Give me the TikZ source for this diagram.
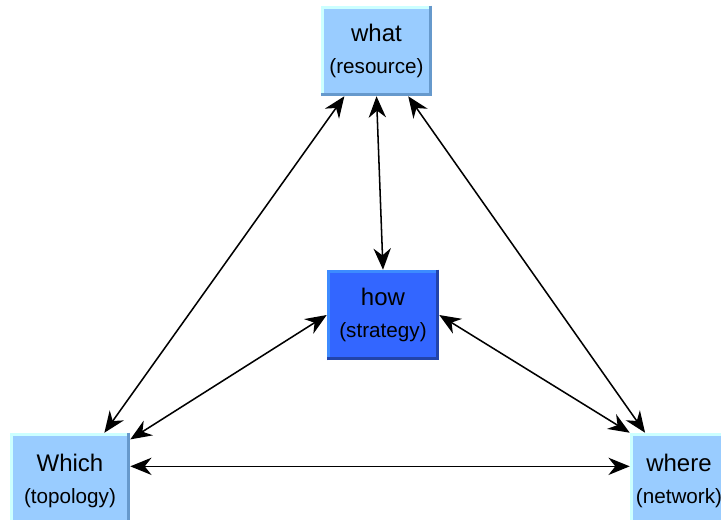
\documentclass[tikz,border=0pt]{standalone}
\usepackage{fontspec}
\setmainfont{Liberation Sans}
\usetikzlibrary{arrows.meta}
\definecolor{boxblue}{HTML}{99CCFF}
\definecolor{boxedge}{HTML}{CCFFFF}
\definecolor{boxshade}{HTML}{6699CC}
\definecolor{howblue}{HTML}{3366FF}
\definecolor{howedge}{HTML}{3D8BFF}
\definecolor{howshade}{HTML}{2244AA}
\newcommand{\boxtext}[2]{{\fontsize{18}{24}\selectfont #1}\\#2}

\begin{document}
\begin{tikzpicture}[
    x=0.75pt, y=-0.75pt,
    box/.style={fill=boxblue, align=center, inner sep=0pt,
      font=\fontsize{15.5}{24}\selectfont,
      minimum width=83.25pt, minimum height=67.5pt},
    core/.style={box, fill=howblue},
    arr/.style={{Stealth[length=16pt,width=13pt]}-{Stealth[length=16pt,width=13pt]},
      line width=1.15pt, black}
  ]
    \useasboundingbox (0,0) rectangle (721,519);
    \clip (0,0) rectangle (721,519);

    \node[box] (what) at (376.5,51) {\boxtext{what}{(resource)}};
    \node[core, minimum width=84pt] (how) at (383,315) {\boxtext{how}{(strategy)}};
    \node[box, minimum width=90pt, minimum height=72pt] (which) at (70,481) {\boxtext{Which}{(topology)}};
    \node[box, minimum width=73.5pt, minimum height=72pt] (where) at (679,481) {\boxtext{where}{(network)}};

    % bevelled edges
    \foreach \n/\lt/\dk in {what/boxedge/boxshade, which/boxedge/boxshade,
        where/boxedge/boxshade, how/howedge/howshade}{
      \draw[line width=2.2pt, \lt] ([xshift=1.1pt]\n.south west)
        -- ([shift={(1.1pt,-1.1pt)}]\n.north west) -- ([yshift=-1.1pt]\n.north east);
      \draw[line width=2.2pt, \dk] ([xshift=-1.1pt]\n.north east)
        -- ([shift={(-1.1pt,1.1pt)}]\n.south east) -- ([yshift=1.1pt]\n.south west);
    }

    \draw[arr] (what) -- (which);
    \draw[arr] (what) -- (where);
    \draw[arr] (what.south) -- (how.north);
    \draw[arr] (how.west) -- ([yshift=-5pt]which.north east);
    \draw[arr] (how.east) -- (where.north west);
    \draw[arr] ([yshift=11pt]which.east) -- ([yshift=11pt]where.west);
  \end{tikzpicture}
\end{document}
